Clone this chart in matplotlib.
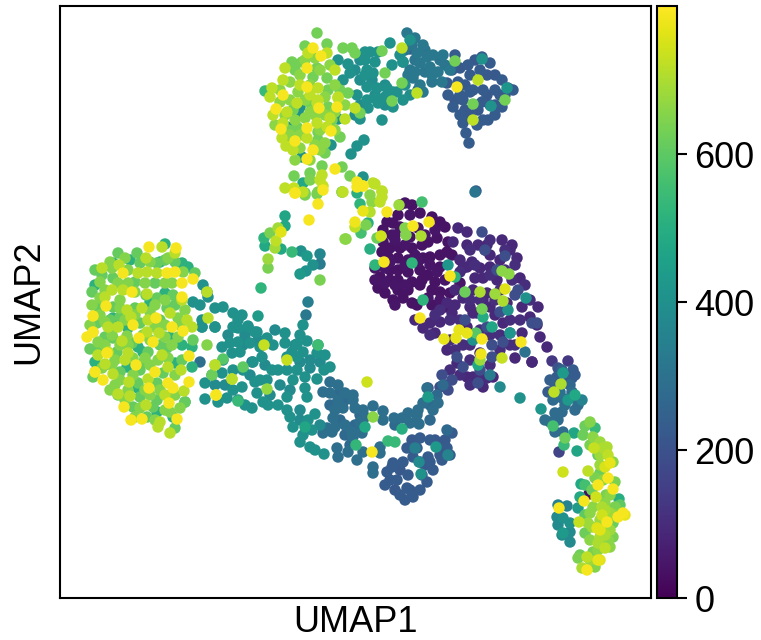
import matplotlib
matplotlib.use("Agg")
import matplotlib.pyplot as plt
import numpy as np

plt.rcParams['font.family'] = ['Liberation Sans', 'DejaVu Sans']

# ---- left blob ----
blob_yellow = [(149,247),(176,248),(193,279),(132,292),(123,273),(175,272),(167,273),(182,283),(182,297),(106,306),(93,316),(87,337),(93,332),(156,318),(133,325),(172,327),(183,331),(139,338),(153,342),(107,353),(136,365),(155,372),(103,380),(168,383),(173,388),(149,388),(169,403),(189,382),(189,356),(124,407),(131,420),(142,419),(177,419),(216,395),(95,372)]
blob_lime = [(162,247),(175,253),(146,258),(102,268),(119,265),(138,273),(147,272),(157,273),(112,290),(105,297),(123,290),(147,294),(182,300),(127,310),(142,308),(170,313),(148,320),(131,317),(187,320),(192,327),(118,327),(93,332),(108,327),(147,332),(122,341),(159,333),(108,352),(98,355),(128,353),(125,360),(162,355),(105,364),(168,367),(181,370),(95,372),(148,379),(113,374),(129,382),(184,391),(165,395),(118,394),(130,396),(146,405),(160,422),(158,427),(170,433),(208,318),(207,292),(215,365),(232,379)]
blob_green = [(118,253),(137,253),(165,260),(95,270),(102,275),(113,278),(140,263),(157,263),(175,262),(195,273),(135,282),(155,283),(92,292),(157,298),(173,295),(146,295),(98,307),(113,307),(135,308),(167,308),(175,305),(97,323),(110,320),(120,317),(160,320),(193,340),(140,323),(105,337),(113,338),(132,343),(160,345),(90,349),(100,348),(117,352),(148,352),(167,348),(182,360),(143,363),(105,365),(120,372),(140,370),(163,373),(138,383),(93,377),(157,383),(118,395),(140,397),(157,400),(185,402),(133,407),(153,407),(147,417),(175,428)]
blob_green_extra = [(110,262),(125,258),(128,270),(150,262),(168,258),(183,272),(112,268),(100,282),(118,283),(128,283),(145,283),(165,283),(172,283),(105,290),(135,292),(165,300),(100,298),(120,300),(155,305),(185,310),(92,305),(100,315),(120,308),(135,315),(150,312),(178,318),(105,322),(125,320),(155,327),(165,325),(180,325),(90,325),(112,335),(127,336),(143,335),(165,337),(178,337),(98,342),(120,345),(150,340),(172,345),(105,345),(128,345),(158,360),(168,358),(145,358),(133,358),(115,360),(102,368),(112,365),(120,380),(133,375),(150,365),(175,375),(115,385),(128,390),(145,390),(160,390),(175,395),(110,390),(125,400),(140,408),(165,410),(150,395),(135,417),(155,420),(170,412),(180,408)]
blob_tealgreen = [(95,285),(113,263),(165,244),(182,263),(188,267),(130,260),(160,262),(165,293),(150,302),(113,318),(128,328),(170,337),(182,345),(100,347),(138,347),(95,362),(127,367),(143,352),(175,363),(138,388),(192,367),(185,402),(173,417),(157,412),(192,347)]

# ---- network running right from the blob ----
net_teal = [(203,285),(207,292),(208,297),(193,302),(200,305),(215,308),(223,307),(233,313),(242,315),(238,320),(235,327),(248,327),(257,332),(202,320),(202,327),(215,327),
            (202,327),(215,327),(233,327),(238,328),(248,326),(255,332),(267,338),(285,333),(300,335),(303,325),(307,341),(297,344),(285,343),(273,345),(318,345),(325,355),(317,353),(330,367),(324,370),(297,357),(287,357),(303,352),(292,352),(222,347),(230,343),(238,342),(232,353),(240,352),(250,343),(260,347),(223,360),(262,357),(272,370),(278,370),(287,370),(297,370),(253,362),(233,370),(222,373),(212,375),(205,383),(242,387),(243,370),(260,380),(267,380),(255,382),(233,390),(227,398),(218,402),(205,399),(257,393),(238,400),(245,405),(252,408),(263,402),(268,405),(278,405),(287,397),(307,397),(305,388),(293,380),(305,377),(317,379),(287,410),(290,417),(293,427),(303,435),(308,420),(315,414),(312,430),(300,442),(315,450),(324,454),(310,447)]
net_teal_extra = [(245,335),(275,330),(295,345),(310,360),(265,365),(250,375),(225,385),(215,385),(270,395),(280,385),(290,390),(300,410),(300,420),(320,425),(310,368),(320,362),(228,335),(243,345),(258,340),(300,362)]
net_blue = [(252,362),(200,362),(330,382),(338,385),(323,392),(330,393),(345,393),(353,395),(338,400),(353,400),(335,410),(343,408),(355,408),(363,410),(373,406),(383,411),(383,420),(333,418),(335,427),(327,428),(332,432),(323,433),(345,425),(352,432),(362,433),(360,422),(353,437),(365,417),(337,448),(338,457),(348,452),(357,460),(363,452),(380,447),(380,453),(373,467),(373,473),(394,418),(402,418),(408,413),(417,415),(410,423),(423,403),(418,410),(438,403),(433,410),(427,388),(419,424)]
net_blue_extra = [(345,400),(360,415),(340,420),(345,435),(355,425),(350,445),(395,425),(430,405),(437,395),(443,385),(430,420),(447,430),(340,392),(330,405)]
ring_blue = [(393,463),(387,472),(390,480),(385,485),(397,480),(408,475),(422,475),(433,470),(427,482),(420,490),(407,488),(400,495),(405,500),(413,497),(407,448),(417,448),(413,457),(420,462),(428,457),(430,462),(420,438),(430,440),(437,447),(447,448),(450,455),(442,460),(452,433),(403,462),(392,467)]
ring_blue_extra = [(400,470),(395,490),(425,465),(410,490),(412,440),(440,455),(435,440),(445,440)]
net_mixed = [(421,474,400),(419,462,380),(448,455,360),(436,447,430),(415,448,340),(428,397,440),(367,382,740),(373,417,660),(372,452,790),(356,445,530),(365,427,480),(305,427,470),(388,441,540),(395,442,540),(402,429,500),(318,345,550),(287,360,730),(264,345,730),(267,389,670),(238,401,540),(232,379,710),(215,365,690),(243,367,600),(223,359,590),(207,345,650),(216,395,790),(212,375,620)]

# ---- dark cluster ----
dark_core = [(405,203),(412,205),(398,215),(387,222),(383,230),(393,223),(420,213),(432,217),(440,222),(445,227),(383,242),(392,235),(400,227),(410,237),(390,248),(400,248),(412,248),(422,245),(428,242),(437,238),(448,242),(447,252),(440,255),(423,258),(430,257),(398,258),(388,257),(382,252),(390,270),(380,277),(398,270),(408,272),(420,270),(428,275),(378,288),(390,280),(398,280),(412,282),(420,285),(385,293),(393,300),(403,298),(412,303),(422,280),(408,290),(398,290),(432,290),(440,292),(450,293),(432,305),(417,305),(452,255),(440,267),(435,282),(408,260)]
dark_core_extra = [(395,235),(405,245),(415,255),(405,265),(385,268),(390,262),(375,268),(412,262),(418,262),(395,305),(405,285),(395,285),(385,283),(428,298),(440,300),(445,307),(425,235),(435,230),(418,228),(410,215),(400,205),(395,240),(375,280),(430,265),(437,272),(445,280),(460,283)]
indigo = [(458,228),(467,232),(453,242),(467,245),(460,260),(472,262),(478,245),(487,245),(485,250),(490,255),(480,268),(475,278),(483,278),(463,268),(467,267),(455,290),(463,298),(455,305),(447,303),(470,307),(452,313),(440,322),(423,328),(430,323),(415,320),(435,333),(473,290),(490,267),(502,240),(512,245),(510,250),(517,258),(500,260),(497,280),(487,293),(497,270),(520,278),(522,307),(507,303),(490,307),(483,300),(447,350),(538,307),(530,317),(547,347),(532,362),(515,358),(537,325),(540,337),(522,333),(503,323),(495,315),(473,313),(477,313),(467,327),(480,353),(473,377),(483,387),(493,377),(457,363),(467,377)]
indigo_extra = [(460,272),(475,265),(480,300),(470,300),(490,275),(505,270),(512,280),(495,300),(500,290),(470,250),(490,240),(505,250),(515,265),(525,285),(530,300),(510,320),(520,320),(490,335),(500,335),(480,330),(470,345),(455,350),(463,345),(470,360),(480,375),(460,375),(450,370),(445,385),(490,365),(500,350),(510,345),(515,345),(470,385),(487,378),(460,320),(450,320),(440,310),(435,315),(430,335),(450,340)]
indigo_blue = [(482,232),(485,250),(505,256),(497,270),(518,290),(515,295),(500,312),(487,327),(465,320),(510,333),(492,345),(503,342),(457,357),(463,367),(452,380),(442,375),(440,387),(448,390),(428,388),(478,383),(480,370),(492,357),(532,323),(537,323)]
dark_mixed = [(525,352,300),(526,298,400),(475,192,310),(508,310,400),(490,375,330),(500,387,380),(520,398,400),(448,265,420),(455,277,520),(492,327,470),(483,317,490),(510,333,420),(478,365,480),(473,340,400),
              (422,202,560),(399,205,680),(405,228,650),(406,235,650),(421,236,700),(381,236,740),(413,226,790),(429,222,790),(412,263,520),(384,262,790),(450,276,790),(423,300,520),(420,318,790),(465,292,620),(480,292,700),(495,294,680),(503,301,700),(505,289,760),(502,271,660),(509,274,660),(482,309,630),(444,339,770),(456,338,770),(459,330,770),(467,333,770),(476,333,590),(482,339,790),(481,354,780),(480,360,680),(502,358,730),(521,342,790)]

# ---- top cluster ----
top_yellow = [(313,48),(321,56),(307,68),(283,95),(281,129),(307,128),(276,109),(319,108),(337,107),(313,150),(307,159),(295,141),(331,131),(307,87),(335,169),(357,182),(363,186),(295,193),(323,190),(457,87)]
top_lime = [(270,97),(272,88),(283,80),(285,68),(308,53),(327,53),(335,70),(318,88),(318,100),(300,85),(338,97),(273,115),(287,112),(297,103),(283,123),(317,123),(330,118),(282,138),(286,146),(293,150),(307,138),(317,103),(345,119),(417,93),(402,48),(478,80),(473,120),(355,108),(327,127),(320,180),(322,175),(285,188),(382,191),(382,197),(373,183),(338,98),(310,95)]
top_green = [(317,33),(305,46),(327,44),(343,48),(352,48),(355,53),(292,62),(302,62),(295,70),(317,68),(327,78),(313,77),(328,90),(340,90),(348,93),(295,105),(328,107),(310,103),(288,130),(297,127),(318,132),(332,120),(340,137),(292,140),(318,140),(293,110),(325,153),(322,166),(294,176),(310,173),(342,167),(350,176),(342,192),(305,193),(317,194),(360,113),(382,51),(392,101),(385,73),(402,83),(455,61),(505,100),(473,104)]
top_green_extra = [(305,60),(315,58),(330,65),(320,70),(300,75),(290,82),(298,92),(310,85),(325,97),(335,85),(280,90),(280,102),(290,100),(305,100),(310,112),(325,115),(335,112),(345,105),(295,120),(305,118),(315,115),(320,130),(300,135),(315,145),(325,143),(335,130),(285,115),(275,125),(290,135),(300,148),(310,160),(320,150),(295,160)]
top_teal = [(338,60),(348,64),(350,73),(343,80),(357,95),(365,52),(370,52),(378,52),(365,60),(375,62),(367,70),(365,75),(373,73),(367,87),(377,88),(387,88),(393,92),(385,97),(367,100),(360,119),(368,108),(378,103),(397,92),(392,65),(403,62),(390,43),(382,120),(364,140),(357,146),(351,154),(331,145),(302,157),(338,119),(298,112),(300,107),(287,127),(363,177),(403,100),(393,107),(410,40),(375,98)]
top_teal_extra = [(360,60),(355,70),(360,80),(372,80),(385,85),(375,95),(360,105),(355,115),(385,105),(400,55),(405,85),(410,95)]
top_blueteal = [(407,33),(415,38),(423,45),(417,53),(427,57),(433,55),(443,55),(420,63),(430,67),(438,72),(410,70),(415,72),(413,78),(420,85),(423,92),(432,75),(442,82),(450,70),(403,62),(408,75)]
top_blueteal_extra = [(412,45),(425,50),(440,60),(415,60),(425,72),(432,82),(405,50),(445,65),(418,90)]
top_blue = [(410,49),(455,55),(468,65),(482,57),(490,63),(470,75),(480,70),(502,80),(508,88),(495,90),(483,90),(470,92),(482,102),(458,82),(448,95),(453,107),(460,115),(463,123),(466,133),(483,120),(495,115),(502,107),(452,70),(477,125),(469,143),(476,191),(447,83),(463,100),(473,90),(513,90),(488,120),(460,95)]
top_blue_extra = [(465,85),(475,105),(487,75),(495,75),(505,95),(455,100),(465,110),(470,115),(478,110),(490,105),(495,105),(500,95),(487,95),(475,60),(460,68)]
top_mixed = [(482,59,400),(491,106,400),(507,88,420),(265,91,540)]

# ---- bridge between top and centre ----
bridge_mixed = [(357,187,790),(363,186,790),(363,211,770),(387,212,790),(355,222,780),(343,192,720),(375,184,720),(382,192,720),(380,202,720),(370,195,660),(372,202,660),(357,193,500),(360,204,520),(370,212,710),(355,227,720),(366,225,640),(361,233,560),(368,223,500),(346,239,660),(370,249,500),(375,265,520),(377,238,620),
                (294,188,730),(303,192,720),(295,193,790),(305,195,640),(318,192,640),(323,186,730),(303,183,480),(318,204,790),(310,180,640),(342,192,670),(309,220,790),(285,216,470),(285,226,480),(281,232,760),(278,228,690),(270,233,640),(264,238,520),(265,246,480),(276,241,720),(275,248,690),(281,249,480),(292,252,540),(301,251,400),(307,256,430),(320,254,370),(320,264,330),(313,265,400),(306,271,410),(300,274,430),(320,280,640),(268,259,680),(268,268,640),(261,288,520),(308,302,340),(306,315,320),(258,316,440),(345,239,660)]

# ---- lower right arm ----
arm_mixed = [(532,362,90),(552,361,130),(568,361,130),(558,368,200),(573,370,230),(557,377,230),(572,378,230),(575,375,230),(548,392,230),(555,385,230),(567,383,230),(572,392,280),(553,400,280),(562,398,280),(578,405,280),(570,398,280),(575,410,280),(555,413,280),(562,412,280),(550,422,280),(558,420,280),(555,432,280),(563,432,280),(559,452,160),(563,373,430),(561,384,700),(554,392,720),(575,395,480),(568,400,430),(541,409,420),(553,426,560),(574,433,470),(565,438,620),(564,445,540),(577,451,470),
             (590,422,650),(585,426,620),(595,428,540),(583,435,620),(593,437,660),(600,442,680),(607,447,700),(594,448,730),(598,455,600),(608,455,720),(613,462,660),(610,463,770),(605,467,750),(600,473,620),(608,478,790),(615,482,640),(613,489,790),(598,485,790),(563,472,740),(588,471,720),(581,484,480),(589,494,30),(584,501,790),(596,497,740),(606,495,640),(619,499,500),(580,497,480),(578,508,440),(559,508,790),(558,505,350),(567,506,350),(557,517,380),(563,518,400),(570,523,400),(558,525,380),(563,533,430),(570,532,380),(562,535,380),(570,542,380),(579,522,730),
             (590,513,660),(602,515,740),(607,522,790),(618,517,790),(623,513,790),(625,515,770),(597,528,760),(600,530,760),(588,523,680),(592,527,680),(610,513,680),(615,507,640),(605,503,660),(593,507,660),(602,507,700),(610,530,680),(613,537,640),(585,533,620),(605,535,700),(598,543,700),(605,548,720),(598,550,660),(610,547,660),(600,560,760),(593,552,640),(587,557,720),(578,558,640),(582,568,700),(587,570,790),(598,560,770),(595,567,650),
             (562,370,250),(550,380,240),(560,392,300),(570,385,260),(565,405,290),(582,400,350),(545,420,290),(590,445,640),(600,455,680),(603,448,700),(603,480,660),(595,478,640),(585,485,560),(592,490,620),(605,510,700),(615,515,660),(600,520,680),(585,515,600),(613,523,620),(590,540,660),(600,537,700),(580,555,620),(590,560,680),(608,540,660),(620,505,600),(610,495,660),(600,465,680)]

tier_groups = [(blob_yellow,790),(blob_lime,715),(blob_green,610),(blob_green_extra,650),(blob_tealgreen,510),
               (net_teal,400),(net_teal_extra,380),(net_blue,290),(net_blue_extra,270),(ring_blue,230),(ring_blue_extra,220),
               (dark_core,40),(dark_core_extra,45),(indigo,90),(indigo_extra,105),(indigo_blue,190),
               (top_yellow,790),(top_lime,720),(top_green,630),(top_green_extra,660),(top_teal,400),(top_teal_extra,390),
               (top_blueteal,320),(top_blueteal_extra,310),(top_blue,230),(top_blue_extra,220)]
mixed_groups = [net_mixed, dark_mixed, top_mixed, bridge_mixed, arm_mixed]

xs, ys, vals = [], [], []
for pts, v in tier_groups:
    for px, py in pts:
        xs.append(px); ys.append(py); vals.append(v)
for pts in mixed_groups:
    for px, py, v in pts:
        xs.append(px); ys.append(py); vals.append(v)
xs, ys, vals = np.array(xs), np.array(ys), np.array(vals)
order = np.argsort(vals)

W, H = 761, 640
fig = plt.figure(figsize=(W/100, H/100), dpi=100)
ax = fig.add_axes([60/W, 1-598/H, (651-60)/W, (598-6)/H])
sc = ax.scatter(xs[order], ys[order], c=vals[order], cmap='viridis', vmin=0, vmax=800, s=68, linewidths=0)
ax.set_xlim(60, 651)
ax.set_ylim(598, 6)
ax.set_xticks([]); ax.set_yticks([])
ax.set_xlabel('UMAP1', fontsize=26, labelpad=5)
ax.set_ylabel('UMAP2', fontsize=26, labelpad=10)
for s in ax.spines.values():
    s.set_linewidth(1.5)

cax = fig.add_axes([656.5/W, 1-598/H, 20/W, (598-6)/H])
cb = fig.colorbar(sc, cax=cax)
cb.set_ticks([0, 200, 400, 600])
cb.ax.tick_params(labelsize=26, length=7, width=1.5, pad=6)
cb.outline.set_linewidth(1.5)

fig.savefig('out.png', dpi=100)
